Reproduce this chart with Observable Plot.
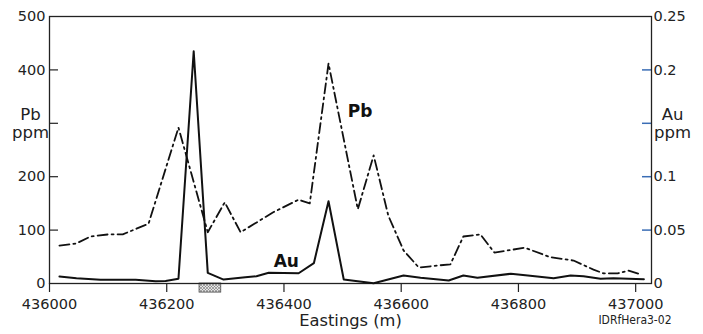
<!DOCTYPE html>
<html>
<head>
<meta charset="utf-8">
<script src="https://cdn.jsdelivr.net/npm/d3@7"></script>
<script src="https://cdn.jsdelivr.net/npm/@observablehq/plot@0.6"></script>
<style>
  html, body { margin: 0; padding: 0; background: #fff; }
</style>
</head>
<body>
<div id="chart"></div>
<script>
// ---- Data ----
const pbEasting = [436017,436046,436070,436101,436125,436169,436220,436270,436299,436326,436381,436425,436444,436476,436526,436553,436578,436604,436630,436684,436706,436735,436759,436811,436855,436894,436928,436945,436969,436988,437009];
const pbPpm     = [71,75,88,92,92,112,292,96,152,96,133,157,150,412,139,240,127,62,30,36,88,92,58,67,49,43,26,19,19,24,17];

const auEasting = [436017,436046,436087,436147,436181,436198,436220,436246,436270,436297,436334,436353,436374,436425,436451,436476,436502,436553,436604,436633,436681,436706,436730,436787,436816,436860,436889,436911,436940,436962,437014];
const auPpm     = [0.0066,0.005,0.0035,0.0035,0.0022,0.0023,0.0044,0.2175,0.010,0.0037,0.0059,0.0068,0.010,0.0096,0.019,0.077,0.0037,0.0003,0.0075,0.0053,0.0028,0.0075,0.0053,0.0091,0.0075,0.005,0.0075,0.0068,0.0044,0.005,0.004];

const eastingTicks = [436000,436200,436400,436600,436800,437000];
const pbTicks      = [0,100,200,300,400,500];
const pbTickLabels = ["0","100","200","","400","500"];
const auTickValues = [0,0.05,0.1,0.15,0.2,0.25];
const auTickLabels = ["0","0.05","0.1","","0.2","0.25"];
const auScaleFactor = 2000; // Au ppm * 2000 = Pb ppm axis units (0.25 <-> 500)

const sampleZone = [{x1: 436256, x2: 436293}];
const seriesLabels = [
  {name: "Pb", easting: 436530, value: 322},
  {name: "Au", easting: 436404, value: 41}
];

// ---- Build ----
const W = 703, H = 334, ML = 49, MR = 52, MT = 16, MB = 51;
const innerW = W - ML - MR;
const tickLen = 9;

const pbData = pbEasting.map((e, i) => ({e, v: pbPpm[i]}));
const auData = auEasting.map((e, i) => ({e, v: auPpm[i]}));
const pbLabelMap = new Map(pbTicks.map((t, i) => [t, pbTickLabels[i]]));
const auAsPb = auTickValues.map(v => v * auScaleFactor);
const auLabelMap = new Map(auAsPb.map((t, i) => [t, auTickLabels[i]]));
const pbInnerTicks = pbTicks.slice(1, -1);
const auInnerTicks = auAsPb.slice(1, -1);

const font = "DejaVu Sans";

const svg = Plot.plot({
  width: W,
  height: H,
  marginLeft: ML,
  marginRight: MR,
  marginTop: MT,
  marginBottom: MB,
  style: {fontFamily: font, fontSize: "14.5px", background: "white", color: "#222", overflow: "visible"},
  x: {domain: [436000, 437027]},
  y: {domain: [0, 500]},
  marks: [
    // sample zone box below the axis
    Plot.rect(sampleZone, {x1: "x1", x2: "x2", y1: 0, y2: -17, fill: "url(#hatch)", stroke: "#444", strokeWidth: 0.8}),
    // left axis labels
    Plot.axisY({anchor: "left", ticks: pbTicks, tickSize: 0, tickPadding: 4, tickFormat: d => pbLabelMap.get(d), label: null}),
    // left inward ticks
    Plot.tickY(pbInnerTicks, {y: d => d, insetRight: innerW - tickLen, stroke: "#222", strokeWidth: 1.2}),
    // right axis labels (Au ppm)
    Plot.axisY({anchor: "right", ticks: auAsPb, tickSize: 0, tickPadding: 2, tickFormat: d => auLabelMap.get(d), label: null}),
    // right inward blue ticks
    Plot.tickY(auInnerTicks, {y: d => d, insetLeft: innerW - tickLen, stroke: "#3a6db5", strokeWidth: 1.5}),
    // bottom axis
    Plot.axisX({anchor: "bottom", ticks: eastingTicks, tickSize: 9, tickPadding: 6, tickFormat: d => String(d), label: null, strokeWidth: 1.2}),
    Plot.frame({stroke: "#222", strokeWidth: 1.3}),
    // Pb (dash-dot)
    Plot.line(pbData, {x: "e", y: "v", stroke: "#111", strokeWidth: 1.8, strokeDasharray: "10,4,2,4"}),
    // Au (solid), drawn on the Pb axis via the scale factor
    Plot.line(auData, {x: "e", y: d => d.v * auScaleFactor, stroke: "#111", strokeWidth: 2}),
    // series labels
    Plot.text(seriesLabels, {x: "easting", y: "value", text: "name", fontWeight: "bold", fontSize: 17, fill: "#111"}),
    // axis titles
    Plot.text(["Pb\nppm"], {frameAnchor: "left", y: () => 300, dx: -19, textAnchor: "middle", text: d => d, fontSize: 16.5, lineHeight: 1.05, fill: "#222"}),
    Plot.text(["Au\nppm"], {frameAnchor: "right", y: () => 300, dx: 21, textAnchor: "middle", text: d => d, fontSize: 16.5, lineHeight: 1.05, fill: "#222"}),
    Plot.text(["Eastings (m)"], {frameAnchor: "bottom", dy: 42, text: d => d, fontSize: 16.3, fill: "#222"}),
    Plot.text(["IDRfHera3-02"], {frameAnchor: "bottom-right", dx: 20, dy: 40, textAnchor: "end", text: d => d, fontSize: 12, fontFamily: "Liberation Sans Narrow, DejaVu Sans Condensed, sans-serif", fill: "#222"})
  ]
});

// crosshatch pattern definition
const defs = d3.select(svg).insert("defs", ":first-child");
const pat = defs.append("pattern")
  .attr("id", "hatch")
  .attr("patternUnits", "userSpaceOnUse")
  .attr("width", 3)
  .attr("height", 3);
pat.append("rect").attr("width", 3).attr("height", 3).attr("fill", "#e4e4e4");
pat.append("path").attr("d", "M0,0 L3,3 M3,0 L0,3").attr("stroke", "#777").attr("stroke-width", 0.6);

document.getElementById("chart").appendChild(svg);
</script>
</body>
</html>
